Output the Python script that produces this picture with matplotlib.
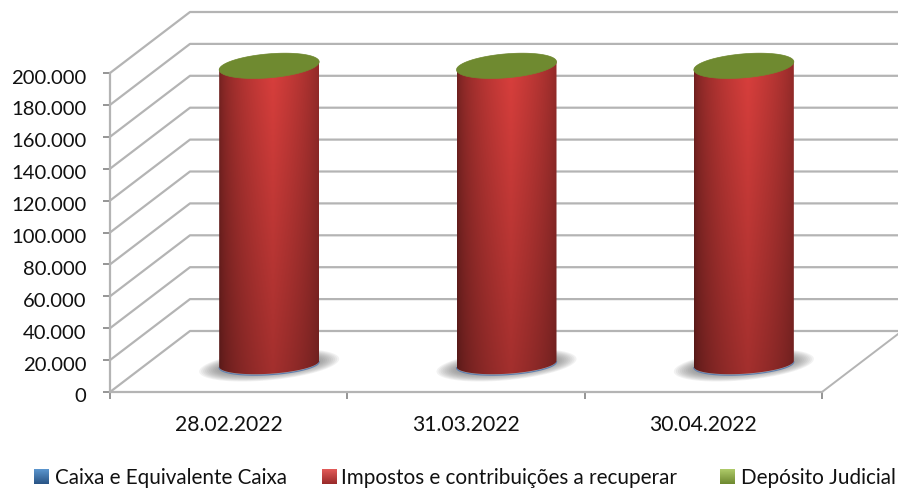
import numpy as np
from matplotlib import pyplot as plt
from matplotlib.colors import to_rgb
from matplotlib.patches import PathPatch, Polygon
from matplotlib.path import Path
from matplotlib.transforms import ScaledTranslation

plt.rcParams['font.family'] = ['Lato', 'DejaVu Sans']

categories = ["28.02.2022", "31.03.2022", "30.04.2022"]
series_names = ["Caixa e Equivalente Caixa", "Impostos e contribuições a recuperar", "Depósito Judicial"]
caixa = [300, 300, 300]
impostos = [186500, 186500, 186500]
deposito = [300, 300, 300]
y_ticks = [0, 20000, 40000, 60000, 80000, 100000, 120000, 140000, 160000, 180000, 200000]
y_labels = ["0", "20.000", "40.000", "60.000", "80.000", "100.000", "120.000", "140.000", "160.000", "180.000",
            "200.000"]

W, H = 898, 489
GRID = "#b4b4b4"
fig = plt.figure(figsize=(W / 100, H / 100), dpi=100)
ax = fig.add_axes([110 / W, (H - 393) / H, 712 / W, 319 / H])
ax.set_xlim(0, 3)
ax.set_ylim(0, 200000)

# one screen pixel in data units
px_x = 3 / 712
px_y = 200000 / 319
depth_x = 80 * px_x
depth_y = 61 * px_y

# walls of the 3d box
for v in y_ticks:
    ax.plot([0, depth_x, 3 + depth_x], [v, v + depth_y, v + depth_y], color=GRID, lw=1.6, clip_on=False, zorder=1)
ax.plot([3, 3 + depth_x], [0, depth_y], color=GRID, lw=1.4, clip_on=False, zorder=1)

ax.set_xticks([0, 1, 2, 3])
ax.set_xticklabels([])
ax.set_xticks([0.5, 1.5, 2.5], minor=True)
ax.set_xticklabels(categories, minor=True, fontsize=15.2, color="#111111")
ax.set_yticks(y_ticks)
ax.set_yticklabels(y_labels, fontsize=14.6, color="#111111")
ax.tick_params(axis="x", which="major", length=5, width=1.3, color="#8c8c8c")
ax.tick_params(axis="x", which="minor", length=0, pad=16)
ax.tick_params(axis="y", length=5, width=1.3, color="#8c8c8c", pad=12)
# labels sit a little under their ticks
for lab in ax.get_yticklabels():
    lab.set_transform(lab.get_transform() + ScaledTranslation(0, -2.5 / 100, fig.dpi_scale_trans))
for side in ["top", "right"]:
    ax.spines[side].set_visible(False)
for side in ["left", "bottom"]:
    ax.spines[side].set_color("#b4b4b4")
    ax.spines[side].set_linewidth(1.6)


def ellipse(cx, cy, a, b, slope, t):
    # tilted ellipse given in pixels around a data point
    x = cx + a * np.cos(t) * px_x
    y = cy + (b * np.sin(t) + slope * a * np.cos(t)) * px_y
    return x, y


def cylinder_image():
    u = np.linspace(0, 1, 200)
    v = np.linspace(1, 0, 200)
    shade = 0.5 + 0.5 * np.clip(1 - np.abs(u - 0.54) / 0.54, 0, 1) ** 0.55
    fall = 0.74 + 0.26 * v
    light = np.outer(fall, shade)
    img = np.zeros((200, 200, 3))
    img[:, :, 0] = 0.86 * light
    img[:, :, 1] = 0.25 * light
    img[:, :, 2] = 0.24 * light
    return img


a = 50
for i in range(len(categories)):
    cx = i + 0.5 + 40.5 * px_x
    base = 0.455 * depth_y
    b0 = base + caixa[i]
    top = b0 + impostos[i]
    cap = top + deposito[i]

    # shadow on the floor
    t = np.linspace(0, 2 * np.pi, 120)
    for k in range(10):
        sx, sy = ellipse(cx, base - 1 * px_y, 70 - k * 2, 15 - k * 0.7, 0.09, t)
        ax.add_patch(Polygon(np.c_[sx, sy], closed=True, fc="#707070", ec="none", alpha=0.09, zorder=2, clip_on=False))

    # blue sliver under the red body
    t_low = np.linspace(np.pi, 2 * np.pi, 60)
    bx, by = ellipse(cx, base - 0.5 * px_y, a, 10, 0.06, t_low)
    ax.plot(bx, by, color="#5f7fb0", lw=0.8, zorder=3)

    # red body with shaded image clipped to cylinder outline
    lx, ly = ellipse(cx, b0, a, 10, 0.06, t_low)
    t_up = np.linspace(0, np.pi, 60)
    ux, uy = ellipse(cx, top, a, 12, 0.08, t_up)
    verts = np.r_[np.c_[lx, ly], np.c_[ux, uy], [[lx[0], ly[0]]]]
    codes = [Path.MOVETO] + [Path.LINETO] * (len(verts) - 2) + [Path.CLOSEPOLY]
    body = PathPatch(Path(verts, codes), fc="none", ec="none", transform=ax.transData, clip_on=False)
    ax.add_patch(body)
    im = ax.imshow(cylinder_image(), extent=[cx - a * px_x, cx + a * px_x, b0 - 14 * px_y, top + 16 * px_y],
                   aspect="auto", zorder=4, interpolation="bilinear")
    im.set_clip_box(fig.bbox)
    im.set_clip_path(body)

    # green top
    t = np.linspace(0, 2 * np.pi, 120)
    gx, gy = ellipse(cx, cap, a, 12, 0.08, t)
    ax.add_patch(Polygon(np.c_[gx, gy], closed=True, fc="#6f8a30", ec="#6f8a30", lw=0.5, zorder=5, clip_on=False))

ax.set_xlim(0, 3)
ax.set_ylim(0, 200000)
ax.patch.set_alpha(0)

# legend, laid out by hand like the original
swatches = [(34, "#5a94cc", "#2a5586"), (322, "#e05a58", "#9a2b2a"), (720, "#adc968", "#6f8a30")]
text_x = [55, 341, 741]
for (sx, c1, c2), name, tx in zip(swatches, series_names, text_x):
    sw = fig.add_axes([sx / W, (H - 485) / H, 15 / W, 15 / H])
    c1 = np.array(to_rgb(c1))
    c2 = np.array(to_rgb(c2))
    g = np.linspace(0, 1, 15)[:, None, None]
    sw.imshow((c1 * (1 - g) + c2 * g).repeat(15, axis=1), aspect="auto")
    sw.axis("off")
    fig.text(tx / W, (H - 478) / H, name, fontsize=14.9, color="#111111", va="center", ha="left")

plt.savefig("out.png", dpi=100)
